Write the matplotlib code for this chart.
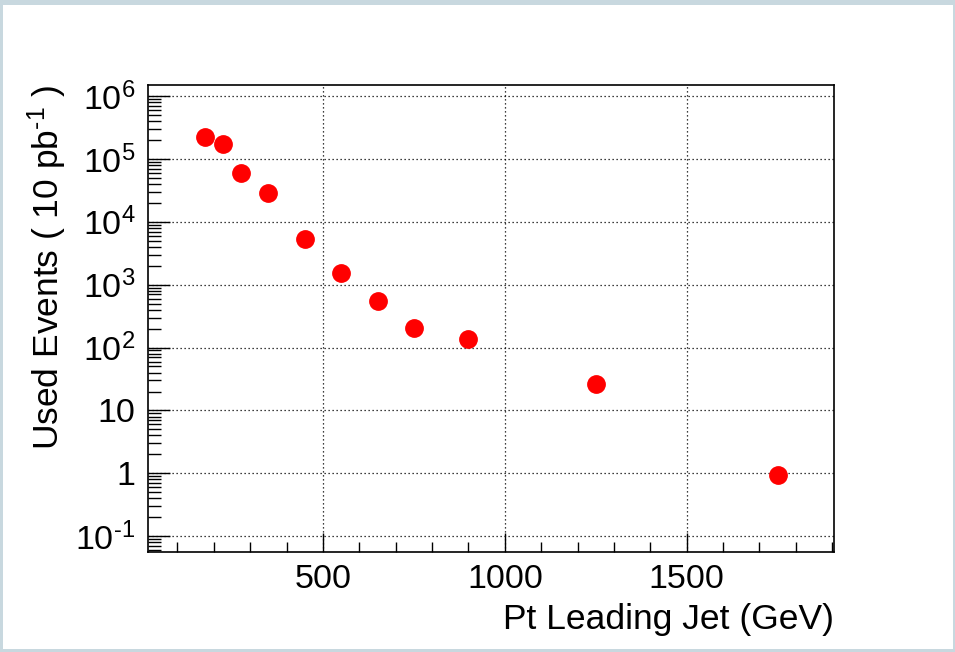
import matplotlib
matplotlib.use('Agg')
import matplotlib.pyplot as plt
import matplotlib.ticker as mticker
from matplotlib.patches import Rectangle

# leading jet pt bins (GeV) and used events for 10 pb^-1
pt_centers = [175, 225, 275, 350, 450, 550, 650, 750, 900, 1250, 1750]
used_events = [2.2e5, 1.7e5, 6.0e4, 2.85e4, 5.4e3, 1.53e3, 545, 206, 137, 26.5, 0.95]

x_ticks = [500, 1000, 1500]
y_ticks = [1e-1, 1, 10, 1e2, 1e3, 1e4, 1e5, 1e6]
y_tick_labels = [r'$10^{\text{-}1}$', '1', '10', '$10^{2}$', '$10^{3}$',
                 '$10^{4}$', '$10^{5}$', '$10^{6}$']

plt.rcParams['font.family'] = ['Liberation Sans', 'DejaVu Sans']
plt.rcParams['mathtext.fontset'] = 'custom'
plt.rcParams['mathtext.rm'] = 'Liberation Sans'
plt.rcParams['mathtext.it'] = 'Liberation Sans:italic'
plt.rcParams['mathtext.bf'] = 'Liberation Sans:bold'

W, H = 955, 652
fig = plt.figure(figsize=(W / 100, H / 100), dpi=100, facecolor='#c8d8df')
# white canvas inside the light border
fig.patches.append(Rectangle((3 / W, 3 / H), (953 - 3) / W, (647 - 3) / H,
                             transform=fig.transFigure, facecolor='white',
                             edgecolor='none', zorder=-5))

ax = fig.add_axes([148 / W, (H - 552) / H, (834 - 148) / W, (552 - 85) / H])
ax.set_zorder(2)
ax.set_yscale('log')
ax.set_xlim(19, 1905)
ax.set_ylim(0.056, 1.5e6)

ax.plot(pt_centers, used_events, linestyle='none', marker='o',
        markersize=12.5, color='#ff0000', zorder=3, clip_on=False)

ax.grid(True, which='major', color='black', linestyle=(0, (1, 2.2)),
        linewidth=0.9)

ax.xaxis.set_major_locator(mticker.FixedLocator(x_ticks))
ax.xaxis.set_minor_locator(mticker.MultipleLocator(100))
ax.yaxis.set_major_locator(mticker.FixedLocator(y_ticks))
ax.yaxis.set_major_formatter(mticker.FixedFormatter(y_tick_labels))
ax.yaxis.set_minor_locator(mticker.LogLocator(base=10, subs=range(2, 10),
                                              numticks=20))
ax.yaxis.set_minor_formatter(mticker.NullFormatter())

ax.tick_params(axis='both', which='both', direction='in', top=False,
               right=False, width=1, labelsize=24.5, color='black')
ax.tick_params(axis='x', which='major', length=14, pad=9)
ax.tick_params(axis='x', which='minor', length=7)
ax.tick_params(axis='y', which='major', length=16, pad=9)
ax.tick_params(axis='y', which='minor', length=9)

for s in ax.spines.values():
    s.set_linewidth(1.2)

ax.set_xlabel('Pt Leading Jet (GeV)', fontsize=25.5, loc='right')
ax.set_ylabel('Used Events ( 10 pb$^{\\text{-}1}$ )', fontsize=25.5, loc='top')
ax.xaxis.set_label_coords(1.0, -(603 - 552) / 467)
ax.yaxis.set_label_coords(-(148 - 69) / 686, 1.0)

fig.savefig('out.png', dpi=100, facecolor=fig.get_facecolor())
